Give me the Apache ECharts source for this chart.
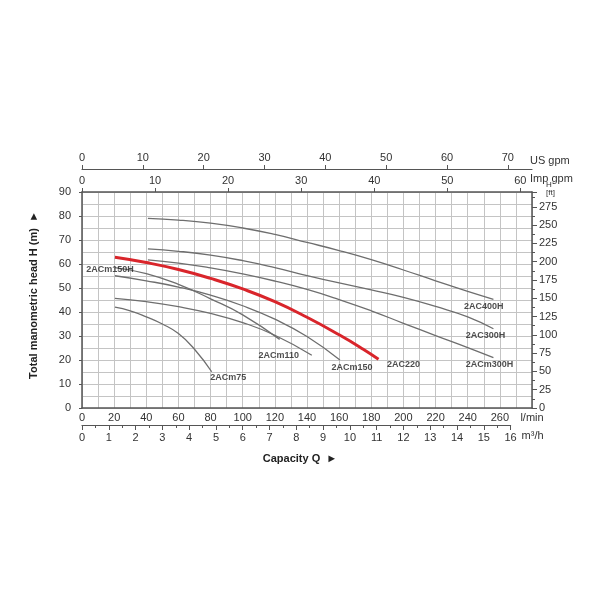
<!DOCTYPE html>
<html><head><meta charset="utf-8">
<script src="https://cdn.jsdelivr.net/npm/echarts@6/dist/echarts.min.js"></script>
<style>html,body{margin:0;padding:0;background:#fff}#c{width:600px;height:600px}</style>
</head><body><div id="c"></div>
<script>
// ---- tick labels ----
const lpmMax = 280;
const lpmTicks = [0,20,40,60,80,100,120,140,160,180,200,220,240,260,280];
const m3hTicks = [0,1,2,3,4,5,6,7,8,9,10,11,12,13,14,15,16];
const usGpmTicks = [0,10,20,30,40,50,60,70];
const impGpmTicks = [0,10,20,30,40,50,60];
const ftMaxLabel = 275;

// ---- curves (Q in l/min, H in m) ----
const q400H = [41, 60, 80, 100, 120, 140, 160, 180, 200, 220, 240, 256];
const h400H = [79, 78.3, 77, 75, 72.3, 69, 65.6, 61.8, 57.5, 53, 48.6, 45.3];
const q300H = [41, 60, 80, 100, 120, 140, 160, 180, 200, 220, 240, 256];
const h300H = [66.3, 65.3, 63.7, 61.4, 58.5, 55.2, 52.1, 49.2, 46.1, 42.3, 38, 33];
const qm300H = [41, 60, 80, 100, 120, 140, 160, 180, 200, 220, 240, 256];
const hm300H = [61.7, 60.4, 58.4, 55.9, 52.9, 49.4, 45.2, 40.5, 35.3, 30.2, 25.2, 21];
const q220 = [20.5, 40, 60, 80, 100, 120, 140, 160, 175, 184.5];
const h220 = [62.8, 60.6, 57.7, 54, 49.6, 44.3, 37.8, 30.5, 24.5, 20.3];
const qm150H = [20.5, 40, 60, 80, 100, 123];
const hm150H = [58.5, 56, 51.5, 45.5, 38.8, 28.6];
const qm150 = [20.5, 40, 60, 80, 100, 120, 140, 160.5];
const hm150 = [55.1, 53, 50.4, 47, 42.6, 37, 29.8, 20];
const qm110 = [20.5, 40, 60, 80, 100, 120, 143];
const hm110 = [45.7, 44.3, 42.2, 39.4, 35.6, 30.3, 22];
const qm75 = [20.5, 30, 40, 50, 60, 70, 80.7];
const hm75 = [42, 40.5, 38, 35, 31, 24.5, 15.1];

// ---- curve labels (position in Q, H) ----
const labelNames = ['2ACm150H','2ACm75','2ACm110','2ACm150','2AC220','2ACm300H','2AC300H','2AC400H'];
const labelQ = [17.4, 91, 122.4, 168, 200, 253.6, 251, 250];
const labelH = [57.9, 12.8, 21.7, 17, 18.2, 18.2, 30.4, 42.2];

const zip = (q, h) => q.map((v, i) => [v, h[i]]);
const FONT = 'Liberation Sans, Arial, DejaVu Sans, sans-serif';
const AX = '#555';
const TXT = '#333';
const GRID = '#c4c4c4';

function curve(name, q, h, red) {
  return {
    type: 'line', name, data: zip(q, h), smooth: true, showSymbol: false, symbol: 'none',
    xAxisIndex: 0, yAxisIndex: 0, z: red ? 5 : 3,
    lineStyle: { color: red ? '#d9252b' : '#6e6e6e', width: red ? 3 : 1.3 }
  };
}

const chart = echarts.init(document.getElementById('c'), null, { renderer: 'canvas' });
chart.setOption({
  backgroundColor: '#fff',
  animation: false,
  textStyle: { fontFamily: FONT },
  title: {
    text: 'Capacity Q  \u25BA', left: 'center', top: 448,
    textStyle: { fontSize: 11, fontWeight: 'bold', color: '#222', fontFamily: FONT }
  },
  grid: [
    { left: 82, right: 68, top: 192, bottom: 192 },
    { left: 82, width: 428.6, bottom: 175, height: 10 }
  ],
  xAxis: [
    { // l/min
      type: 'value', gridIndex: 0, position: 'bottom', min: 0, max: lpmMax, interval: 10,
      axisLine: { show: true, onZero: false, lineStyle: { color: AX, width: 1.5 } },
      axisTick: { show: false },
      axisLabel: { margin: 4, color: TXT, fontSize: 11, fontFamily: FONT, customValues: lpmTicks,
        formatter: v => (v === lpmMax ? 'l/min' : String(v)) },
      splitLine: { show: true, lineStyle: { color: GRID, width: 1 } }
    },
    { // m3/h
      type: 'value', gridIndex: 1, position: 'bottom', min: 0, max: m3hTicks[m3hTicks.length - 1], interval: 1,
      axisLine: { show: true, onZero: false, lineStyle: { color: AX, width: 1.2 } },
      axisTick: { show: true, length: 5, lineStyle: { color: AX } },
      minorTick: { show: true, splitNumber: 2, length: 3, lineStyle: { color: AX } },
      axisLabel: { margin: 7, color: TXT, fontSize: 11, fontFamily: FONT },
      splitLine: { show: false },
      name: 'm\u00B3/h', nameLocation: 'end', nameGap: 11, nameMoveOverlap: false,
      nameTextStyle: { color: TXT, fontSize: 11, fontFamily: FONT, verticalAlign: 'top', padding: [5, 0, 0, 0] }
    },
    { // Imp gpm
      type: 'value', gridIndex: 0, position: 'top', min: 0, max: lpmMax / 4.54609,
      axisLine: { show: true, onZero: false, lineStyle: { color: AX, width: 1.5 } },
      axisTick: { show: true, length: 4, customValues: impGpmTicks, lineStyle: { color: AX } },
      axisLabel: { margin: 6, color: TXT, fontSize: 11, fontFamily: FONT, customValues: impGpmTicks },
      splitLine: { show: false },
      name: 'Imp gpm', nameLocation: 'end', nameGap: -2, nameMoveOverlap: false,
      nameTextStyle: { color: TXT, fontSize: 11, fontFamily: FONT, verticalAlign: 'bottom', padding: [0, 0, 8, 0] }
    },
    { // US gpm
      type: 'value', gridIndex: 0, position: 'top', offset: 23, min: 0, max: lpmMax / 3.78541,
      axisLine: { show: true, onZero: false, lineStyle: { color: AX, width: 1.2 } },
      axisTick: { show: true, length: 4, customValues: usGpmTicks, lineStyle: { color: AX } },
      axisLabel: { margin: 6, color: TXT, fontSize: 11, fontFamily: FONT, customValues: usGpmTicks },
      splitLine: { show: false },
      name: 'US gpm', nameLocation: 'end', nameGap: -2, nameMoveOverlap: false,
      nameTextStyle: { color: TXT, fontSize: 11, fontFamily: FONT, verticalAlign: 'bottom', padding: [0, 0, 3, 0] }
    }
  ],
  yAxis: [
    { // m
      type: 'value', gridIndex: 0, position: 'left', min: 0, max: 90, interval: 10,
      axisLine: { show: true, onZero: false, lineStyle: { color: AX, width: 1.5 } },
      axisTick: { show: true, length: 3, lineStyle: { color: AX } },
      axisLabel: { margin: 11, color: TXT, fontSize: 11, fontFamily: FONT },
      splitLine: { show: true, lineStyle: { color: GRID, width: 1 } },
      minorTick: { show: false, splitNumber: 2 },
      minorSplitLine: { show: true, lineStyle: { color: GRID, width: 1 } },
      name: 'Total manometric head H (m)  \u25BA', nameLocation: 'middle', nameGap: 43, nameMoveOverlap: false,
      nameTextStyle: { color: '#222', fontSize: 11, fontWeight: 'bold', fontFamily: FONT, padding: [0, 0, 0, 10] }
    },
    { // ft
      type: 'value', gridIndex: 0, position: 'right', min: 0, max: 90 * 3.28084, interval: 25,
      axisLine: { show: true, onZero: false, lineStyle: { color: AX, width: 1.5 } },
      axisTick: { show: true, length: 5, lineStyle: { color: AX } },
      minorTick: { show: true, splitNumber: 2, length: 3, lineStyle: { color: AX } },
      axisLabel: { margin: 7, color: TXT, fontSize: 11, fontFamily: FONT,
        formatter: v => (v <= ftMaxLabel && Math.abs(v % 25) < 1e-6 ? String(v) : '') },
      splitLine: { show: false },
      name: 'H\n[ft]', nameLocation: 'end', nameGap: -5, nameMoveOverlap: false,
      nameTextStyle: { color: TXT, fontSize: 8, lineHeight: 8, fontFamily: FONT, align: 'left', verticalAlign: 'bottom', padding: [0, 0, 0, 14] }
    },
    { type: 'value', gridIndex: 1, show: false, min: 0, max: 1 }
  ],
  series: [
    curve('2AC400H', q400H, h400H),
    curve('2AC300H', q300H, h300H),
    curve('2ACm300H', qm300H, hm300H),
    curve('2ACm150H', qm150H, hm150H),
    curve('2ACm150', qm150, hm150),
    curve('2ACm110', qm110, hm110),
    curve('2ACm75', qm75, hm75),
    curve('2AC220', q220, h220, true),
    {
      type: 'scatter', name: 'labels', xAxisIndex: 0, yAxisIndex: 0, z: 10,
      symbolSize: 1, itemStyle: { color: 'rgba(0,0,0,0)' },
      data: labelNames.map((n, i) => ({ name: n, value: [labelQ[i], labelH[i]] })),
      label: { show: true, position: 'inside', formatter: p => p.name,
        color: '#222', fontSize: 9, fontWeight: 'bold', fontFamily: FONT }
    }
  ]
});
</script>
</body></html>
